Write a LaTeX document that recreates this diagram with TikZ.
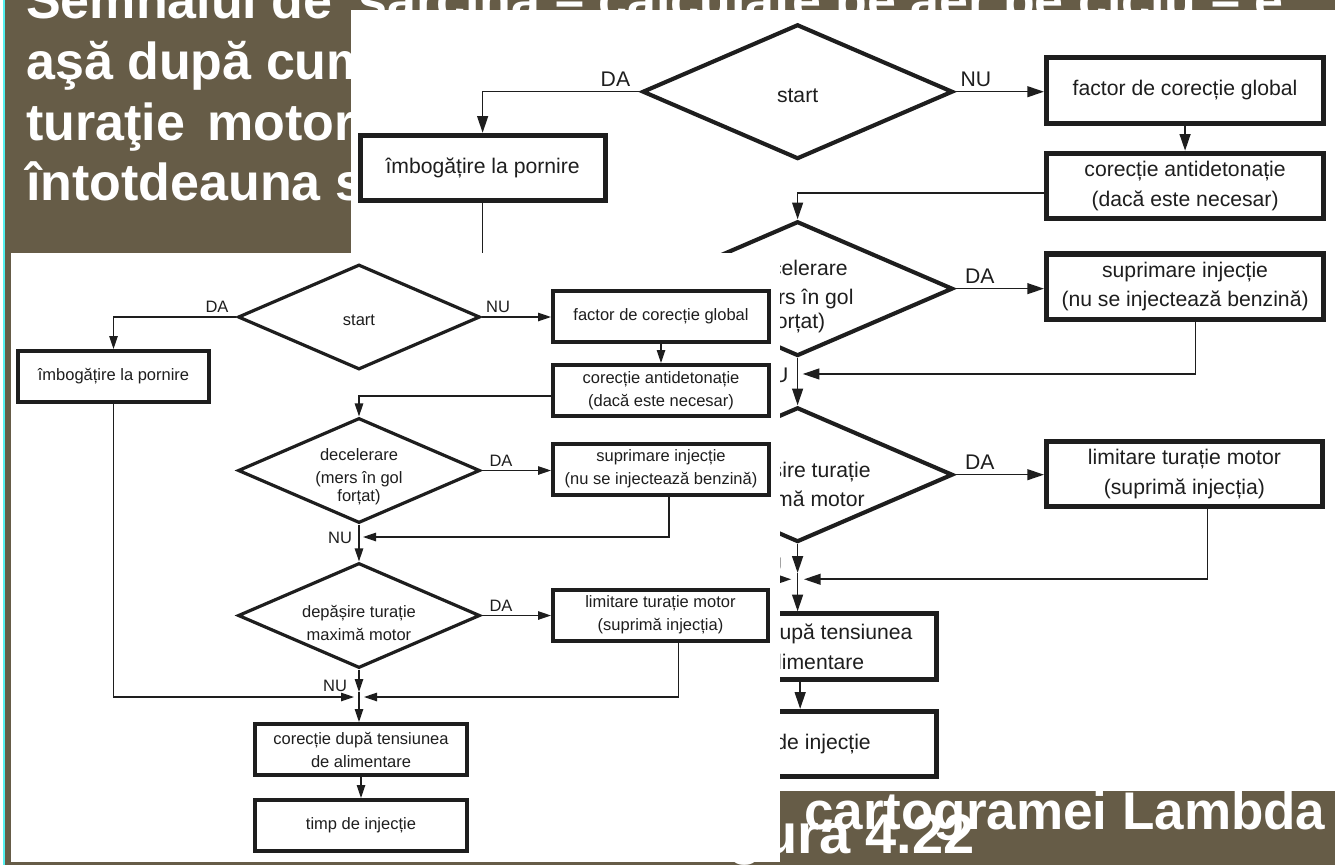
\documentclass[tikz,border=0pt]{standalone}
\usepackage{fontspec}
\setmainfont{Liberation Sans}
\usetikzlibrary{arrows.meta,shapes.geometric}

\definecolor{slide}{HTML}{665C47}
\definecolor{rim}{HTML}{55F0F0}
\definecolor{ink}{HTML}{1E1E1E}

\tikzset{
  chartfont/.style={font=\fontsize{16.5}{23}\selectfont, text=ink},
  box/.style={draw=ink, line width=4pt, inner sep=0pt, minimum width=216pt,
    minimum height=51pt, align=center, chartfont},
  dia/.style={draw=ink, diamond, line width=3.2pt, inner sep=0pt,
    minimum width=242pt, minimum height=105pt},
  txt/.style={align=center, inner sep=0pt, chartfont},
  lbl/.style={inner sep=0pt, chartfont},
  flow/.style={draw=ink, line width=1.2pt, -{Triangle[length=13pt,width=8.5pt]}},
  slidetext/.style={text=white, inner sep=0pt, anchor=base west,
    font=\fontsize{52}{61}\selectfont\bfseries},
}

% One copy of the fuel-injection flowchart on its white sheet;
% #1 is a prefix that keeps the node names of each copy apart.
\newcommand\flowchart[1]{%
  \fill[white] (11,253) rectangle (780,862);
  % decisions
  \node[dia] (#1start) at (359,317) {};
  \node[txt] (#1startt) at (359,320) {start};
  \node[dia] (#1dec) at (359,470.5) {};
  \node[txt] (#1dect) at (359,476.5) {decelerare\\(mers în gol\\[-5pt]forțat)};
  \node[dia] (#1dep) at (359,615.5) {};
  \node[txt] (#1dept) at (359,623) {depășire turație\\maximă motor};
  % actions
  \node[box, minimum width=191pt] (#1imb) at (113.5,376.5) {îmbogățire la pornire};
  \node[box] (#1fac) at (661,316) {factor de corecție global};
  \node[box] (#1ant) at (661,390.5) {corecție antidetonație\\(dacă este necesar)};
  \node[box] (#1sup) at (661,469) {suprimare injecție\\(nu se injectează benzină)};
  \node[box, minimum width=215pt] (#1lim) at (660.5,615) {limitare turație motor\\(suprimă injecția)};
  \node[box, minimum width=212pt] (#1cor) at (361,749.5) {corecție după tensiunea\\de alimentare};
  \node[box, minimum width=212pt] (#1tim) at (361,825.5) {timp de injecție};
  % meeting points of the return lines
  \coordinate (#1ja) at (363,537);
  \coordinate (#1jl) at (354,697);
  \coordinate (#1jr) at (364,697);
  \coordinate (#1jt) at (359,692);
  % branch labels
  \node[lbl] (#1l1) at (217,307) {DA};
  \node[lbl] (#1l2) at (498,307) {NU};
  \node[lbl] (#1l3) at (501,461) {DA};
  \node[lbl] (#1l4) at (340,538) {NU};
  \node[lbl] (#1l5) at (501,606) {DA};
  \node[lbl] (#1l6) at (335,686) {NU};
  % connectors
  \draw[flow] (#1start.west) -| (#1imb.north);
  \draw[flow] (#1start.east) -- (#1start.east -| #1fac.west);
  \draw[flow] (#1fac.south) -- (#1ant.north);
  \draw[flow] ([yshift=-5.5pt]#1ant.west) -| (#1dec.north);
  \draw[flow] (#1dec.east) -- (#1dec.east -| #1sup.west);
  \draw[flow] ([xshift=8pt]#1sup.south) |- (#1ja);
  \draw[flow] (#1dec.south) -- (#1dep.north);
  \draw[flow] (#1dep.east) -- (#1dep.east -| #1lim.west);
  \draw[flow] ([xshift=18pt]#1lim.south) |- (#1jr);
  \draw[flow] (#1imb.south) |- (#1jl);
  \draw[flow] (#1dep.south) -- (#1jt);
  \draw[flow] (#1jt) -- (#1jt |- #1cor.north);
  \draw[flow] (#1cor.south) -- (#1tim.north);
}

\begin{document}
\begin{tikzpicture}[x=1pt,y=-1pt]
  \useasboundingbox (0,0) rectangle (1335,865);
  % slide background and its left rim
  \fill[slide] (0,0) rectangle (1335,865);
  \fill[white] (0,0) rectangle (2.7,865);
  \fill[rim] (2.7,0) rectangle (5.3,865);

  % slide text (justified, hence the wider word gaps)
  \node[slidetext] (row1) at (26,18) {Semnalul de\hspace{0.5em}sarcină – calculate pe aer pe ciclu – e};
  \node[slidetext] (row2) at (26,79) {aşă după cum};
  \node[slidetext] (row3) at (26,140) {turaţie\hspace{0.43em}motor};
  \node[slidetext] (row4) at (26,200) {întotdeauna se};
  \node[slidetext, font=\fontsize{53}{61}\selectfont\bfseries] (cap1) at (804,829) {cartogramei Lambda};
  \node[slidetext, anchor=base east, font=\fontsize{56}{64}\selectfont\bfseries] (cap2) at (975,853) {Figura 4.22};

  % enlarged copy of the flowchart
  \begin{scope}[transform canvas={shift={(337,-315)}, scale=1.283}]
    \flowchart{b}
  \end{scope}

  % flowchart at its own size
  \flowchart{s}
\end{tikzpicture}
\end{document}
